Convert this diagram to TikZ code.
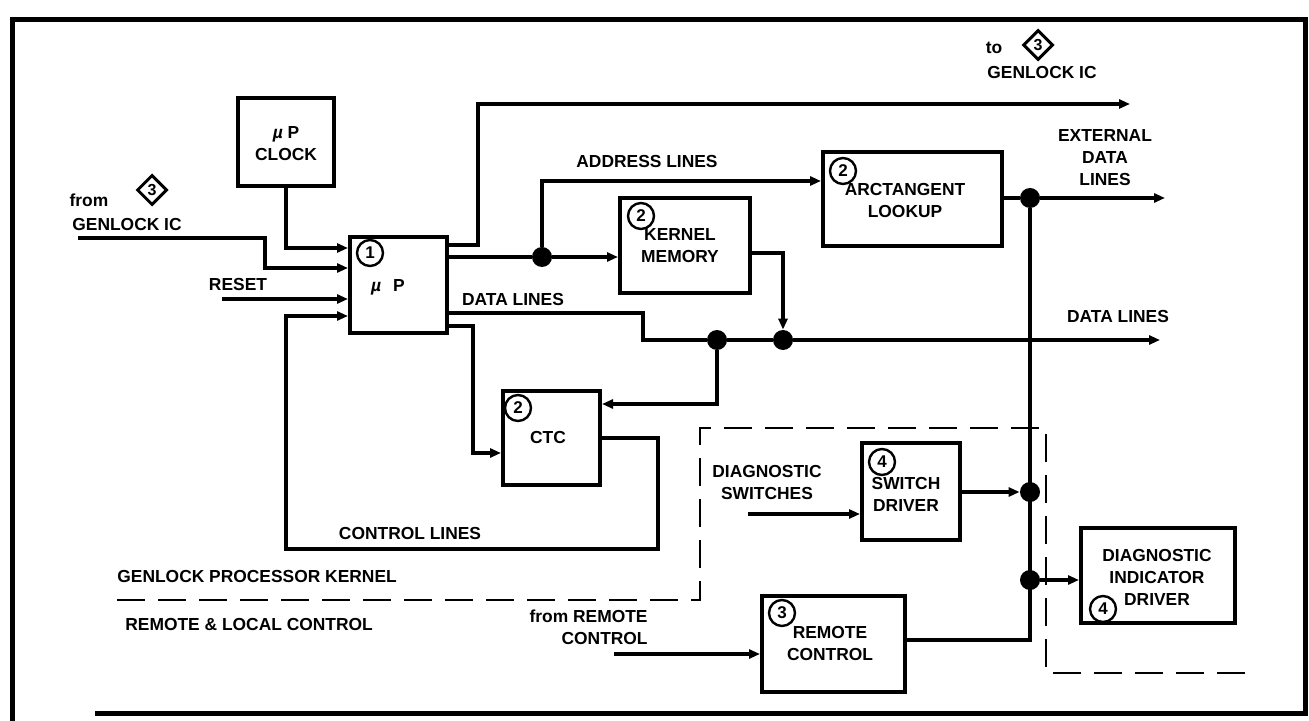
\documentclass[tikz,border=0pt]{standalone}
\usepackage{fontspec}
\setmainfont{Liberation Sans}
\usetikzlibrary{arrows.meta,shapes.geometric}
\tikzset{
  ln/.style={line width=1.8pt},
  arr/.style={ln,-{Triangle[length=5.5pt,width=4.5pt]}},
  blk/.style={draw,line width=2pt,inner sep=0pt},
  txt/.style={font=\fontsize{8.7}{11}\selectfont\bfseries,align=center,inner sep=0pt},
  numc/.style={draw,circle,line width=1.2pt,inner sep=0pt,minimum size=13pt,font=\fontsize{8.5}{9}\selectfont\bfseries},
  dia/.style={draw,diamond,line width=1.5pt,inner sep=0pt,minimum size=15pt,font=\fontsize{8}{9}\selectfont\bfseries},
  dot/.style={circle,fill,inner sep=0pt,minimum size=10pt},
  bnd/.style={line width=1.1pt,dash pattern=on 14pt off 6.5pt}
}
\begin{document}
\begin{tikzpicture}[x=0.5pt,y=-0.5pt]
\useasboundingbox (0,0) rectangle (1309,721);
% frame
\draw[line width=2.5pt] (12,721) -- (12,20) -- (1305,20) -- (1305,713) -- (95,713);

% blocks
\node[blk,minimum width=48pt,minimum height=44pt] (clk) at (286,142) {};
\node[blk,minimum width=48.5pt,minimum height=48pt] (up) at (398.5,285) {};
\node[blk,minimum width=65pt,minimum height=47.5pt] (km) at (685,245.5) {};
\node[blk,minimum width=89.5pt,minimum height=47pt] (atan) at (912.5,199) {};
\node[blk,minimum width=48.5pt,minimum height=47pt] (ctc) at (551.5,438) {};
\node[blk,minimum width=49pt,minimum height=48.5pt] (sd) at (911,491.5) {};
\node[blk,minimum width=71.5pt,minimum height=48pt] (rc) at (833.5,644) {};
\node[blk,minimum width=77pt,minimum height=47.5pt] (di) at (1158,575.5) {};

% block texts
\node[txt] (clkt) at (286,144) {\textit{µ} P\\CLOCK};
\node[txt] (upt) at (388,287) {\textit{µ}\hspace{6pt}P};
\node[numc] (n1) at (370,253) {1};
\node[numc] (n2a) at (641,216) {2};
\node[txt] (kmt) at (680,246) {KERNEL\\MEMORY};
\node[numc] (n2b) at (843,171) {2};
\node[txt] (atant) at (905,201) {ARCTANGENT\\LOOKUP};
\node[numc] (n2c) at (518,408) {2};
\node[txt] (ctct) at (548,438) {CTC};
\node[numc] (n4a) at (882,462) {4};
\node[txt] (sdt) at (906,494) {SWITCH\\DRIVER};
\node[numc] (n3) at (782,613) {3};
\node[txt] (rct) at (830,644) {REMOTE\\CONTROL};
\node[txt] (dit) at (1157,577) {DIAGNOSTIC\\INDICATOR\\DRIVER};
\node[numc] (n4b) at (1103,609) {4};

% labels
\node[txt] (from) at (89,200) {from};
\node[dia] (d3a) at (152,190) {3};
\node[txt] (gic1) at (127,225) {GENLOCK IC};
\node[txt] (rst) at (238,285) {RESET};
\node[txt] (addr) at (647,162) {ADDRESS LINES};
\node[txt] (dl1) at (513,300) {DATA LINES};
\node[txt] (to) at (994,48) {to};
\node[dia] (d3b) at (1038,45) {3};
\node[txt] (gic2) at (1042,73) {GENLOCK IC};
\node[txt] (edl) at (1105,158) {EXTERNAL\\DATA\\LINES};
\node[txt] (dl2) at (1118,317) {DATA LINES};
\node[txt] (ctl) at (410,534) {CONTROL LINES};
\node[txt,anchor=west] (gpk) at (117,577) {GENLOCK PROCESSOR KERNEL};
\node[txt,anchor=west] (rlc) at (125,625) {REMOTE \& LOCAL CONTROL};
\node[txt] (dsw) at (767,483) {DIAGNOSTIC\\SWITCHES};
\node[txt,anchor=east,align=right] (frc) at (648,627) {from REMOTE\\CONTROL};

% junction dots
\node[dot] (j1) at (542,257) {};
\node[dot] (j2) at (717,340) {};
\node[dot] (j3) at (783,340) {};
\node[dot] (j4) at (1030,198) {};
\node[dot] (j5) at (1030,492) {};
\node[dot] (j6) at (1030,580) {};

% free ends
\coordinate (gin) at (78,238);
\coordinate (rin) at (222,299);
\coordinate (gout) at (1130,104);
\coordinate (dout) at (1160,340);
\coordinate (eout) at (1165,198);
\coordinate (dsin) at (748,514);
\coordinate (rcin) at (614,654);

% connectors into uP
\draw[arr] (clk.south) |- (up.west |- 0,248);
\draw[arr] (gin) -| (265,268) -- (up.west |- 0,268);
\draw[arr] (rin) -- (up.west |- rin);
\draw[arr] (ctc.east |- 0,438) -| (658,549) -| (286,316) -- (up.west |- 0,316);

% out of uP
\draw[arr] (up.east |- 0,245) -| (478,104) -- (gout);
\draw[ln] (up.east |- j1) -- (j1);
\draw[arr] (j1) -- (km.west |- j1);
\draw[arr] (j1) |- (atan.west |- 0,181);
\draw[arr] (km.east |- 0,253) -| (j3.north);
\draw[ln] (up.east |- 0,313) -| (643,340) -- (j2) -- (j3);
\draw[arr] (j3) -- (dout);
\draw[arr] (up.east |- 0,326) -| (473,453) -- (ctc.west |- 0,453);
\draw[arr] (j2) |- (ctc.east |- 0,404);

% arctangent output and bus
\draw[ln] (atan.east |- j4) -- (j4);
\draw[arr] (j4) -- (eout);
\draw[ln] (j4) |- (rc.east |- 0,640);
\draw[arr] (sd.east |- j5) -- (j5.west);
\draw[arr] (j6) -- (di.west |- j6);
\draw[arr] (dsin) -- (sd.west |- dsin);
\draw[arr] (rcin) -- (rc.west |- rcin);

% boundary
\draw[bnd] (117,600) -- (700,600) -- (700,428) -- (1046,428) -- (1046,673) -- (1255,673);
\end{tikzpicture}
\end{document}
